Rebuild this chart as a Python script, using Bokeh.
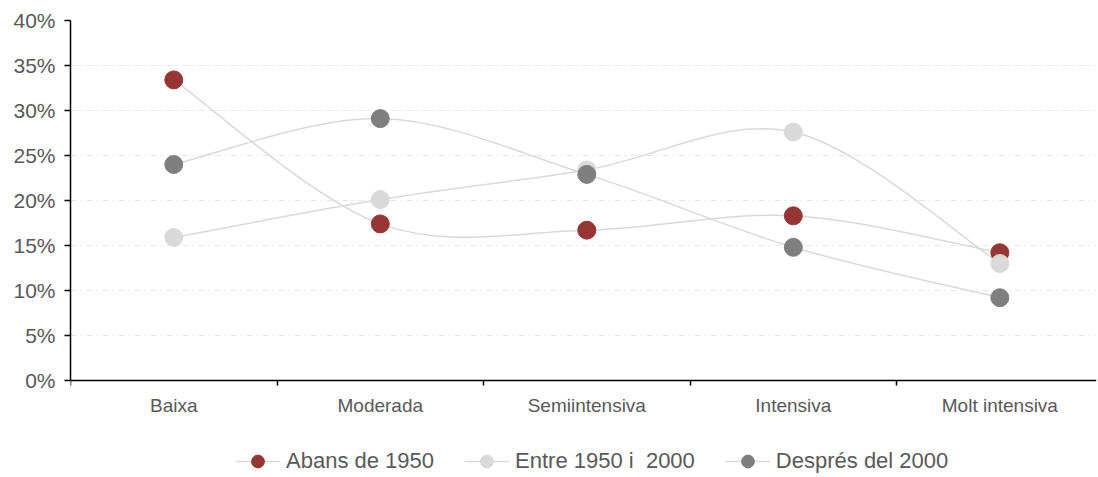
from bokeh.plotting import figure
from bokeh.models import FixedTicker, Legend, LegendItem, Range1d
from bokeh.embed import file_html
from bokeh.resources import INLINE

categories = ["Baixa", "Moderada", "Semiintensiva", "Intensiva", "Molt intensiva"]
series_names = ["Abans de 1950", "Entre 1950 i  2000", "Després del 2000"]
abans_1950 = [33.4, 17.4, 16.7, 18.3, 14.2]
entre_1950_2000 = [15.9, 20.1, 23.4, 27.6, 13.0]
despres_2000 = [24.0, 29.1, 22.9, 14.8, 9.2]
y_ticks = [0, 5, 10, 15, 20, 25, 30, 35, 40]

marker_colors = ["#963634", "#d9d9d9", "#7f7f7f"]
line_color = "#d9d9d9"
FONT = "Liberation Sans"

p = figure(width=1098, height=477, output_backend="svg", toolbar_location=None,
           x_range=Range1d(-0.5, 4.468), y_range=Range1d(-10.78, 40),
           min_border_left=70, min_border_right=2, min_border_top=20, min_border_bottom=0)
p.outline_line_color = None
p.background_fill_color = "white"

xs = list(range(len(categories)))
all_series = [abans_1950, entre_1950_2000, despres_2000]


def smooth_segments(x, y):
    n = len(x)
    out = dict(x0=[], y0=[], x1=[], y1=[], cx0=[], cy0=[], cx1=[], cy1=[])
    for i in range(n - 1):
        xm = x[max(i - 1, 0)]; ym = y[max(i - 1, 0)]
        xp = x[min(i + 2, n - 1)]; yp = y[min(i + 2, n - 1)]
        out["x0"].append(x[i]); out["y0"].append(y[i])
        out["x1"].append(x[i + 1]); out["y1"].append(y[i + 1])
        out["cx0"].append(x[i] + (x[i + 1] - xm) / 6.0)
        out["cy0"].append(y[i] + (y[i + 1] - ym) / 6.0)
        out["cx1"].append(x[i + 1] - (xp - x[i]) / 6.0)
        out["cy1"].append(y[i + 1] - (yp - y[i]) / 6.0)
    return out


curves = []
for vals in all_series:
    curves.append(p.bezier(line_color=line_color, line_width=1.5, **smooth_segments(xs, vals)))

items = []
for name, vals, col, curve in zip(series_names, all_series, marker_colors, curves):
    sc = p.scatter(xs, vals, size=18, fill_color=col, line_color=col, marker="circle")
    items.append(LegendItem(label=name, renderers=[curve, sc]))

legend = Legend(items=items, orientation="horizontal", location=(165, 0),
                glyph_width=45, glyph_height=32, label_standoff=6, spacing=30,
                padding=0, margin=0, border_line_color=None, background_fill_alpha=0,
                label_text_font=FONT, label_text_font_size="22px", label_text_color="#595959")
p.add_layout(legend, "center")

# y axis
p.yaxis.ticker = FixedTicker(ticks=y_ticks)
p.yaxis.bounds = (0, 40)
p.yaxis.major_label_overrides = {t: f"{t}%" for t in y_ticks}
p.yaxis.axis_line_color = "black"
p.yaxis.axis_line_width = 1.5
p.yaxis.major_tick_line_color = "black"
p.yaxis.major_tick_line_width = 1.5
p.yaxis.major_tick_out = 6
p.yaxis.major_tick_in = 0
p.yaxis.minor_tick_line_color = None
p.yaxis.major_label_standoff = 9
p.yaxis.major_label_text_font = FONT
p.yaxis.major_label_text_font_size = "21px"
p.yaxis.major_label_text_color = "#595959"

# x axis
p.xaxis.fixed_location = 0
p.xaxis.ticker = FixedTicker(ticks=xs, minor_ticks=[-0.5, 0.5, 1.5, 2.5, 3.5, 4.5])
p.xaxis.major_label_overrides = {i: c for i, c in enumerate(categories)}
p.xaxis.axis_line_color = "black"
p.xaxis.axis_line_width = 1.5
p.xaxis.major_tick_line_color = None
p.xaxis.major_tick_out = 0
p.xaxis.major_tick_in = 0
p.xaxis.minor_tick_line_color = "black"
p.xaxis.minor_tick_line_width = 1.5
p.xaxis.minor_tick_out = 5
p.xaxis.minor_tick_in = 0
p.xaxis.major_label_standoff = 10
p.xaxis.major_label_text_font = FONT
p.xaxis.major_label_text_font_size = "19px"
p.xaxis.major_label_text_color = "#595959"

p.xgrid.grid_line_color = None
p.ygrid.ticker = FixedTicker(ticks=y_ticks[1:])
p.ygrid.grid_line_color = "#e6e6e6"
p.ygrid.grid_line_width = 1
p.ygrid.grid_line_dash = "6 4 2 4"

open("out.html", "w").write(file_html(p, INLINE))
